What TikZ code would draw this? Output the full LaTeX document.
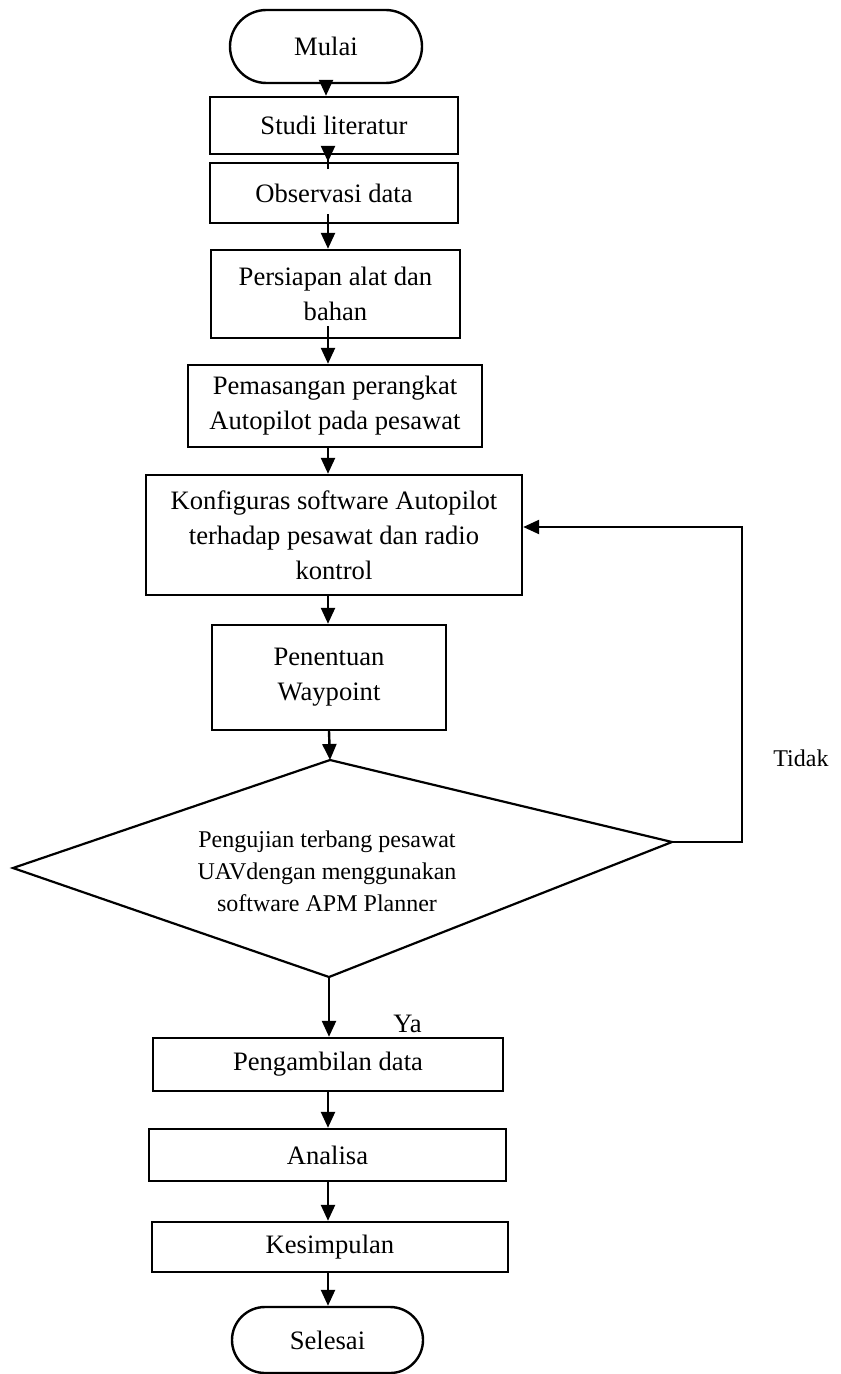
\documentclass[tikz,border=0pt]{standalone}
\usepackage{fontspec}
\setmainfont{Liberation Serif}
\usetikzlibrary{arrows.meta,shapes.misc}

\begin{document}
\begin{tikzpicture}[x=0.5pt, y=-0.5pt]
  \tikzset{box/.style={draw, line width=1.2pt, align=center, inner sep=0pt,
                       font=\fontsize{13.3}{17.5}\selectfont},
           term/.style={box, rounded rectangle},
           arr/.style={line width=1.2pt, -{Triangle[width=7pt,length=8pt]}},
           line/.style={line width=1.1pt},
           dtext/.style={align=center, font=\fontsize{12}{16}\selectfont}}
  \useasboundingbox (0,0) rectangle (840,1374);
  % steps
  \node[term, minimum width=96pt, minimum height=36.5pt] (mulai) at (326,46.5) {Mulai};
  \node[box, minimum width=124pt, minimum height=28.5pt] (studi) at (334,125.5) {Studi literatur};
  \node[box, minimum width=124pt, minimum height=30pt] (obs) at (334,193) {Observasi data};
  \node[box, minimum width=124.5pt, minimum height=44pt] (siap) at (335.5,294) {Persiapan alat dan\\bahan};
  \node[box, minimum width=147pt, minimum height=41pt] (pasang) at (335,406) {Pemasangan perangkat\\Autopilot pada pesawat};
  \node[box, minimum width=188pt, minimum height=60pt] (konf) at (334,535) {Konfiguras software Autopilot\\terhadap pesawat dan radio\\kontrol};
  \node[box, minimum width=117pt, minimum height=52.5pt] (tentu) at (329,677.5) {Penentuan\\Waypoint};
  % decision
  \coordinate (dtop) at (330,760);
  \coordinate (dright) at (672,842);
  \coordinate (dbot) at (329,977);
  \coordinate (dleft) at (13,868);
  \draw[line] (dtop) -- (dright) -- (dbot) -- (dleft) -- cycle;
  \node[dtext] (uji) at (327,871) {Pengujian terbang pesawat\\UAVdengan menggunakan\\software APM Planner};
  \node[box, minimum width=175pt, minimum height=26.5pt] (ambil) at (328,1064.5) {Pengambilan data};
  \node[box, minimum width=178.5pt, minimum height=26pt] (analisa) at (327.5,1155) {Analisa};
  \node[box, minimum width=178pt, minimum height=25pt] (simpul) at (330,1247) {Kesimpulan};
  \node[term, minimum width=95.5pt, minimum height=33pt] (selesai) at (327.5,1340) {Selesai};
  % labels
  \node[dtext, anchor=base west, inner sep=0pt] (tidak) at (773,766) {Tidak};
  \node[anchor=base west, inner sep=0pt, font=\fontsize{13.3}{16}\selectfont] (ya) at (393,1032) {Ya};
  % arrows
  \draw[arr] (mulai.south) -- (mulai.south |- studi.north);
  \draw[arr, shorten <=-7pt] (328,0 |- studi.south) -- (328,0 |- obs.north);
  \draw[arr, shorten <=-5pt] (328,0 |- obs.south) -- (328,0 |- siap.north);
  \draw[arr, shorten <=-6.5pt] (328,0 |- siap.south) -- (328,0 |- pasang.north);
  \draw[arr] (328,0 |- pasang.south) -- (328,0 |- konf.north);
  \draw[arr] (328,0 |- konf.south) -- (328,0 |- tentu.north);
  \draw[arr] (tentu.south) -- (dtop);
  \draw[arr] (dbot) -- (dbot |- ambil.north);
  \draw[arr] (328,0 |- ambil.south) -- (328,0 |- analisa.north);
  \draw[arr] (328,0 |- analisa.south) -- (328,0 |- simpul.north);
  \draw[arr] (328,0 |- simpul.south) -- (328,0 |- selesai.north);
  \coordinate (balik) at (742,842);
  \draw[arr] (dright) -- (balik) |- ([yshift=4pt]konf.east);
\end{tikzpicture}
\end{document}
